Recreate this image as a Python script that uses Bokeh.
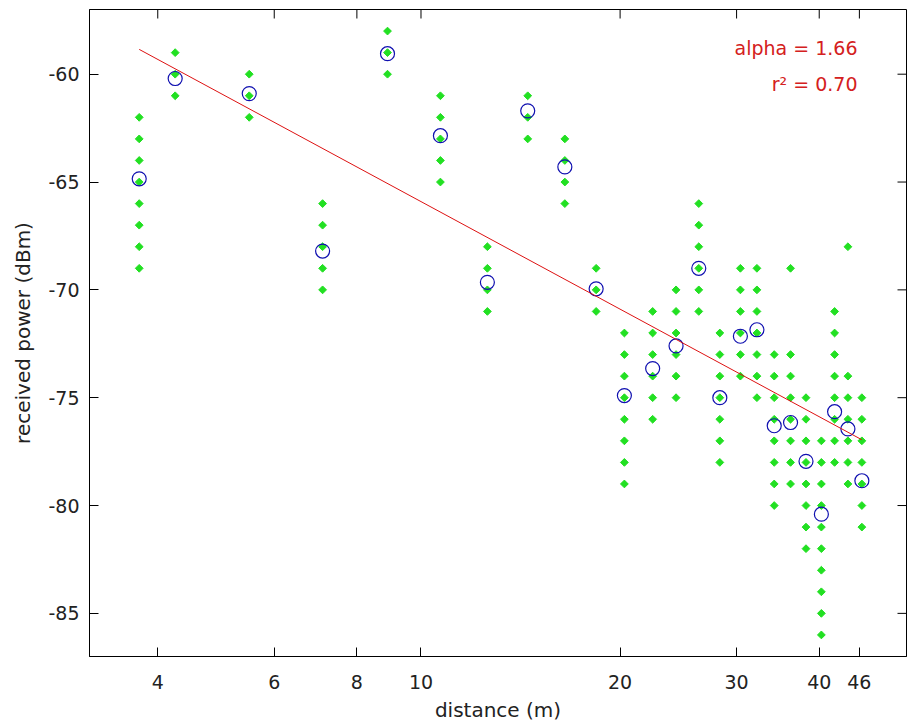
import math
from bokeh.plotting import figure
from bokeh.models import (Range1d, FixedTicker, CustomJSTickFormatter, Label,
                          ColumnDataSource)
from bokeh.embed import file_html
from bokeh.resources import INLINE

# ---- data ----
distance_m = [3.75, 4.25, 5.5, 7.1, 8.9, 10.7, 12.6, 14.5, 16.5, 18.4,
              20.3, 22.4, 24.3, 26.3, 28.3, 30.4, 32.2, 34.2, 36.2, 38.2,
              40.3, 42.2, 44.2, 46.4]

samples_dbm = [
    [-62, -63, -64, -65, -66, -67, -68, -69],
    [-59, -60, -61],
    [-60, -61, -62],
    [-66, -67, -68, -69, -70],
    [-58, -59, -60],
    [-61, -62, -63, -64, -65],
    [-68, -69, -70, -71],
    [-61, -62, -63],
    [-63, -64, -65, -66],
    [-69, -70, -71],
    [-72, -73, -74, -75, -76, -77, -78, -79],
    [-71, -72, -73, -74, -75, -76],
    [-70, -71, -72, -73, -74, -75],
    [-66, -67, -68, -69, -70, -71],
    [-72, -73, -74, -75, -76, -77, -78],
    [-69, -70, -71, -72, -73, -74],
    [-69, -70, -71, -72, -73, -74, -75],
    [-73, -74, -75, -76, -77, -78, -79, -80],
    [-69, -73, -74, -75, -76, -77, -78, -79],
    [-75, -76, -77, -78, -79, -80, -81, -82],
    [-77, -78, -79, -80, -81, -82, -83, -84, -85, -86],
    [-71, -72, -73, -74, -75, -76, -77, -78],
    [-68, -74, -75, -76, -77, -78, -79],
    [-75, -76, -77, -78, -79, -80, -81],
]

mean_dbm = [-64.85, -60.2, -60.9, -68.2, -59.05, -62.85, -69.65, -61.7,
            -64.3, -69.95, -74.9, -73.65, -72.6, -69.0, -75.0, -72.15,
            -71.85, -76.3, -76.15, -77.95, -80.4, -75.65, -76.45, -78.85]

fit_distance_m = [3.75, 46.4]
fit_dbm = [-58.85, -76.95]

x_tick_values = [4, 6, 8, 10, 20, 30, 40, 46]
y_tick_values = [-85, -80, -75, -70, -65, -60]

annot_alpha = "alpha = 1.66"
annot_r2 = "r\u00b2 = 0.70"

# ---- layout constants ----
W, H = 909, 727
B_LEFT, B_RIGHT, B_TOP, B_BOTTOM = 89, 3, 9, 71
X_LO, X_HI = 3.154, 54.2
Y_LO, Y_HI = -87.0, -57.0
TICK_PX = 9

# ---- build sources ----
pts_x, pts_y = [], []
for d, vals in zip(distance_m, samples_dbm):
    for v in vals:
        pts_x.append(d)
        pts_y.append(v)
src_pts = ColumnDataSource(dict(x=pts_x, y=pts_y))
src_mean = ColumnDataSource(dict(x=distance_m, y=mean_dbm))
src_fit = ColumnDataSource(dict(x=fit_distance_m, y=fit_dbm))

FONT = "DejaVu Sans"
TXT = "#222222"

p = figure(width=W, height=H, x_axis_type="log",
           x_range=Range1d(X_LO, X_HI), y_range=Range1d(Y_LO, Y_HI),
           output_backend="svg", toolbar_location=None,
           min_border_left=B_LEFT, min_border_right=B_RIGHT,
           min_border_top=B_TOP, min_border_bottom=B_BOTTOM)
p.grid.visible = False
p.outline_line_color = "black"
p.outline_line_width = 1
p.background_fill_color = "white"
p.border_fill_color = "white"

# green sample points (rotated squares = diamonds)
p.scatter("x", "y", source=src_pts, marker="square", angle=0.785398,
          size=5.5, fill_color="#22e022", line_color="#22e022")
# blue mean circles
p.scatter("x", "y", source=src_mean, marker="circle", size=14,
          fill_color=None, line_color="#1010b0", line_width=1.2)
# red fit line
p.line("x", "y", source=src_fit, line_color="#dd1111", line_width=1)

fmt = CustomJSTickFormatter(code="return String(tick);")

xa = p.xaxis[0]
xa.ticker = FixedTicker(ticks=x_tick_values)
xa.formatter = fmt
xa.axis_label = "distance (m)"

ya = p.yaxis[0]
ya.ticker = FixedTicker(ticks=y_tick_values)
ya.formatter = fmt
ya.axis_label = "received power (dBm)"

for ax in (xa, ya):
    ax.major_tick_in = TICK_PX
    ax.major_tick_out = 0
    ax.minor_tick_line_color = None
    ax.axis_line_color = "black"
    ax.major_tick_line_color = "black"
    ax.major_label_text_font = FONT
    ax.major_label_text_font_size = "19px"
    ax.major_label_text_color = TXT
    ax.axis_label_text_font = FONT
    ax.axis_label_text_font_size = "20px"
    ax.axis_label_text_font_style = "normal"
    ax.axis_label_text_color = TXT

xa.major_label_standoff = 18
xa.axis_label_standoff = 6
ya.major_label_standoff = 10
ya.axis_label_standoff = 10

# mirrored tick marks on the top and right edges of the box
frame_h = H - B_TOP - B_BOTTOM
frame_w = W - B_LEFT - B_RIGHT
dy = (Y_HI - Y_LO) * TICK_PX / frame_h
kx = 10 ** ((math.log10(X_HI) - math.log10(X_LO)) * TICK_PX / frame_w)
p.segment(x0=x_tick_values, y0=[Y_HI] * len(x_tick_values),
          x1=x_tick_values, y1=[Y_HI - dy] * len(x_tick_values),
          line_color="black", line_width=1)
p.segment(x0=[X_HI] * len(y_tick_values), y0=y_tick_values,
          x1=[X_HI / kx] * len(y_tick_values), y1=y_tick_values,
          line_color="black", line_width=1)

# annotation text
p.add_layout(Label(x=45.7, y=-58.8, text=annot_alpha, text_align="right",
                   text_baseline="middle", text_font=FONT,
                   text_font_size="19px", text_color="#d42020"))
p.add_layout(Label(x=45.7, y=-60.45, text=annot_r2, text_align="right",
                   text_baseline="middle", text_font=FONT,
                   text_font_size="19px", text_color="#d42020"))

open("out.html", "w").write(file_html(p, INLINE))
